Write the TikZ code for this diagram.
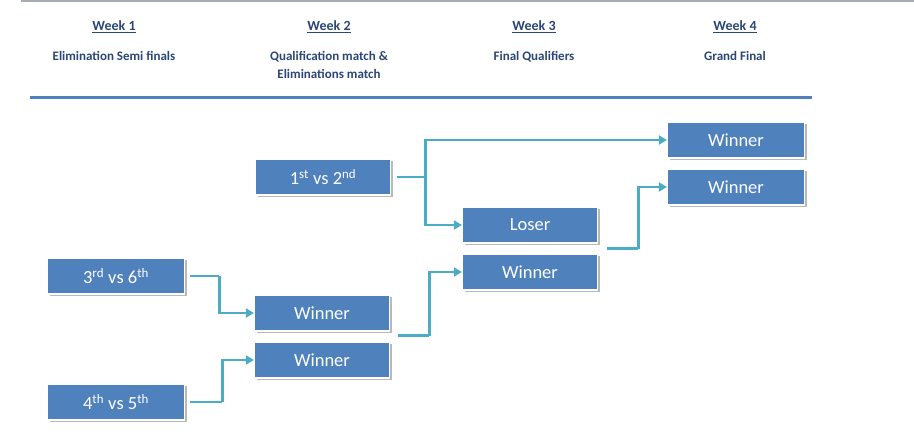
\documentclass[tikz,border=0pt]{standalone}
\usepackage{fontspec}
\setmainfont{Carlito}
\usetikzlibrary{arrows.meta,shadows}
\definecolor{boxblue}{HTML}{4F81BD}
\definecolor{conncol}{HTML}{4BACC6}
\definecolor{headcol}{HTML}{2B4778}
\definecolor{topgrey}{HTML}{A5ACB5}
\tikzset{
  matchbox/.style={rectangle, fill=boxblue, draw=white, line width=1.2pt,
    minimum width=135pt, minimum height=36pt, inner sep=0pt,
    text=white, font=\fontsize{18.5}{20}\selectfont,
    drop shadow={shadow xshift=2.2pt, shadow yshift=-2.2pt, fill=gray!55, opacity=1}},
  widebox/.style={matchbox, minimum width=137pt},
  conn/.style={draw=conncol, line width=2.8pt},
  arr/.style={conn, -{Triangle[length=8pt,width=9pt]}},
  weekhead/.style={text=headcol, font=\bfseries\fontsize{14}{16}\selectfont},
  weeksub/.style={text=headcol, font=\bfseries\fontsize{13}{18}\selectfont, align=center, anchor=north},
}
\begin{document}
\begin{tikzpicture}[x=1pt,y=-1pt]
\useasboundingbox (0,0) rectangle (914,439);
\fill[white] (0,0) rectangle (914,439);
\draw[topgrey, line width=1.6pt] (21,0.8) -- (914,0.8);
% header
\node[weekhead] (h1) at (114,27) {\underline{Week 1}};
\node[weekhead] (h2) at (329,27) {\underline{Week 2}};
\node[weekhead] (h3) at (534,27) {\underline{Week 3}};
\node[weekhead] (h4) at (735,27) {\underline{Week 4}};
\node[weeksub] (s1) at (114,48) {Elimination Semi finals};
\node[weeksub] (s2) at (329,48) {Qualification match \&\\Eliminations match};
\node[weeksub] (s3) at (534,48) {Final Qualifiers};
\node[weeksub] (s4) at (735,48) {Grand Final};
\draw[boxblue, line width=3pt] (30,97) -- (812,97);
% boxes
\node[matchbox] (n12) at (323,177) {1\textsuperscript{st} vs 2\textsuperscript{nd}};
\node[widebox] (n36) at (116,276) {3\textsuperscript{rd} vs 6\textsuperscript{th}};
\node[widebox] (n45) at (116,402) {4\textsuperscript{th} vs 5\textsuperscript{th}};
\node[matchbox] (w2a) at (322,313) {Winner};
\node[matchbox] (w2b) at (322,360) {Winner};
\node[matchbox] (lose) at (530,225) {Loser};
\node[matchbox] (w3) at (530,272) {Winner};
\node[widebox] (w4a) at (736,140) {Winner};
\node[widebox] (w4b) at (736,187) {Winner};
% connectors
\draw[conn] ([xshift=6pt]n12.east) -- ++(28,0) coordinate (j1);
\draw[arr] (j1) |- (w4a.west);
\draw[arr] (j1) |- (lose.west);
\draw[conn] ([xshift=5pt]n36.east) -- ++(29,0) coordinate (j2);
\draw[arr] (j2) |- (w2a.west);
\draw[conn] ([xshift=5pt]n45.east) -- ++(32,0) coordinate (j3);
\draw[arr] (j3) |- (w2b.west);
\draw[conn] ([xshift=8pt,yshift=-4pt]w2a.south east) -- ++(31,0) coordinate (j4);
\draw[arr] (j4) |- (w3.west);
\draw[conn] ([xshift=9pt,yshift=-5pt]lose.south east) -- ++(31,0) coordinate (j5);
\draw[arr] (j5) |- (w4b.west);
\end{tikzpicture}
\end{document}
